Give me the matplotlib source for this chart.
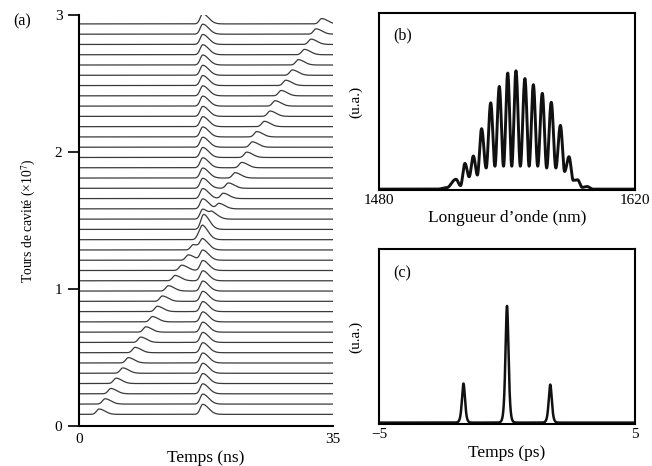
import numpy as np
import matplotlib
matplotlib.use('Agg')
import matplotlib.pyplot as plt

plt.rcParams['font.family'] = ['Liberation Serif', 'DejaVu Serif']
plt.rcParams['mathtext.fontset'] = 'stix'
plt.rcParams['font.size'] = 11

# ---- (a) trains d'impulsions, un trace par groupe de tours
tours = 0.085 + 0.075 * np.arange(39)   # tours de cavite (x10^7)
main_pos = 17.05     # ns, impulsion fixe
main_amp = 0.073
moving_pos = [2.76, 3.58, 4.37, 5.10, 6.02, 6.79, 7.72, 8.50, 9.20, 10.10,
              10.79, 11.48, 12.30, 13.23, 14.15, 15.06, 15.75, 16.60, 17.30, 18.40,
              19.29, 19.88, 20.57, 21.50, 22.42, 23.11, 23.88, 24.49, 25.53, 26.32,
              27.01, 27.84, 28.48, 29.39, 30.22, 31.05, 31.97, 32.66, 33.44]
moving_amp = 0.039

# ---- (b) spectre : extrema lus (longueur d'onde nm, amplitude)
spec_nm = [1480, 1512, 1517, 1522.1, 1524.6, 1527.0, 1529.3, 1531.6, 1533.8, 1536.1,
           1538.6, 1541.1, 1543.4, 1545.8, 1548.1, 1550.4, 1552.6, 1554.9, 1557.3,
           1559.8, 1562.1, 1564.4, 1566.8, 1569.3, 1571.7, 1574.2, 1576.7, 1579.2,
           1581.5, 1583.9, 1586.2, 1588.6, 1591.1, 1593.6, 1597, 1620]
spec_amp = [0.0, 0.0, 0.008, 0.056, 0.02, 0.146, 0.07, 0.188, 0.08, 0.343,
            0.12, 0.49, 0.13, 0.583, 0.13, 0.659, 0.13, 0.672, 0.13,
            0.628, 0.13, 0.593, 0.13, 0.544, 0.12, 0.493, 0.12, 0.362,
            0.10, 0.184, 0.05, 0.053, 0.01, 0.015, 0.0, 0.0]

# ---- (c) autocorrelation : pics (ps, amplitude)
ac_pos = [-1.70, 0.0, 1.69]
ac_amp = [0.225, 0.672, 0.219]


def pulse(t, t0, amp, rise=0.35, fall=0.8):
    s = np.where(t < t0, rise, fall)
    return amp * np.exp(-0.5 * ((t - t0) / s) ** 2)


def smooth_through(xs, ys, n=30):
    # demi-cosinus entre extrema successifs
    xx, yy = [], []
    for i in range(len(xs) - 1):
        u = np.linspace(0, 1, n, endpoint=False)
        w = (1 - np.cos(np.pi * u)) / 2
        xx.append(xs[i] + (xs[i + 1] - xs[i]) * u)
        yy.append(ys[i] + (ys[i + 1] - ys[i]) * w)
    xx.append([xs[-1]])
    yy.append([ys[-1]])
    return np.concatenate(xx), np.concatenate(yy)


W, H = 652, 466
fig = plt.figure(figsize=(W / 100, H / 100), dpi=100)


def box(l, r, t, b):
    return [l / W, 1 - b / H, (r - l) / W, (b - t) / H]


# (a)
axa = fig.add_axes(box(79, 333, 15, 426))
t = np.linspace(0.2, 35, 2500)
for y0, p in zip(tours, moving_pos):
    y = y0 + pulse(t, main_pos, main_amp) + pulse(t, p, moving_amp)
    axa.plot(t, y, color='#3a3a3a', lw=0.9)
axa.set_xlim(0, 35)
axa.set_ylim(0, 3)
axa.set_xticks([0, 35])
axa.set_yticks([0, 1, 2, 3])
axa.spines['top'].set_visible(False)
axa.spines['right'].set_visible(False)
axa.spines['left'].set_linewidth(1.5)
axa.spines['bottom'].set_linewidth(1.5)
axa.tick_params(axis='y', direction='out', length=8, width=1.2, pad=4)
axa.tick_params(axis='x', length=0, pad=5)
axa.set_xlabel('Temps (ns)', fontsize=12.5, labelpad=3)
axa.set_ylabel('Tours de cavité (×10$^7$)', fontsize=9.8, labelpad=12)
fig.text(13 / W, 1 - 21 / H, '(a)', va='center', ha='left', fontsize=11.5)

# (b)
axb = fig.add_axes(box(379, 635, 13, 190))
xs, ys = smooth_through(spec_nm, spec_amp)
axb.plot(xs, ys, color='#111111', lw=2.1)
axb.set_xlim(1480, 1620)
axb.set_ylim(-0.005, 1.0)
axb.set_xticks([1480, 1620])
axb.set_yticks([])
axb.tick_params(axis='x', length=0, pad=3)
for s in axb.spines.values():
    s.set_linewidth(1.5)
axb.set_xlabel('Longueur d’onde (nm)', fontsize=12.5, labelpad=2)
axb.set_ylabel('(u.a.)', labelpad=12)
axb.text(0.055, 0.876, '(b)', transform=axb.transAxes, va='center', ha='left',
         fontsize=11.5)

# (c)
axc = fig.add_axes(box(379, 635, 249, 424))
tc = np.linspace(-5, 5, 6000)
yc = np.zeros_like(tc)
for p, a in zip(ac_pos, ac_amp):
    yc = yc + a / np.cosh((tc - p) / 0.08) ** 2
axc.plot(tc, yc, color='#111111', lw=1.8)
axc.set_xlim(-5, 5)
axc.set_ylim(-0.008, 1.0)
axc.set_xticks([-5, 5])
axc.set_xticklabels(['−5', '5'])
axc.set_yticks([])
axc.tick_params(axis='x', length=0, pad=3)
for s in axc.spines.values():
    s.set_linewidth(1.5)
axc.set_xlabel('Temps (ps)', fontsize=12.5, labelpad=3)
axc.set_ylabel('(u.a.)', labelpad=12)
axc.text(0.055, 0.863, '(c)', transform=axc.transAxes, va='center', ha='left',
         fontsize=11.5)

fig.savefig('out.png', dpi=100)
